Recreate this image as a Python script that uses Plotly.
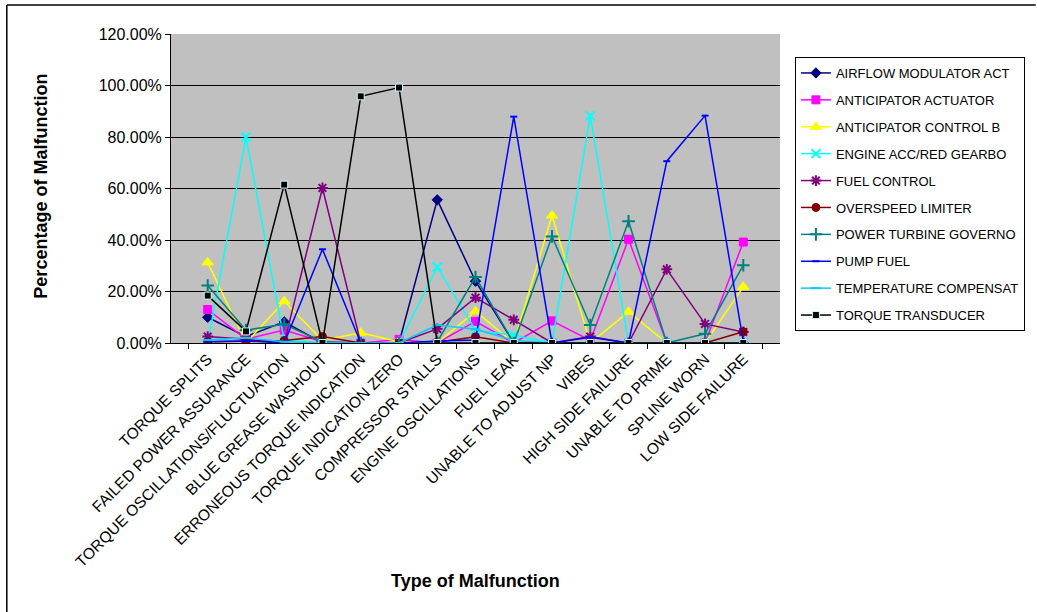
import plotly.graph_objects as go

categories = [
    "TORQUE SPLITS", "FAILED POWER ASSURANCE", "TORQUE OSCILLATIONS/FLUCTUATION",
    "BLUE GREASE WASHOUT", "ERRONEOUS TORQUE INDICATION", "TORQUE INDICATION ZERO",
    "COMPRESSOR STALLS", "ENGINE OSCILLATIONS", "FUEL LEAK", "UNABLE TO ADJUST NP",
    "VIBES", "HIGH SIDE FAILURE", "UNABLE TO PRIME", "SPLINE WORN", "LOW SIDE FAILURE",
]

# values in percent
airflow_modulator = [10.0, 2.5, 8.2, 0, 0, 0, 55.6, 24.0, 0, 0, 0, 0, 0, 0, 0]
anticipator_actuator = [13.0, 1.5, 5.0, 0.5, 0, 1.4, 0, 8.4, 0, 8.6, 1.0, 40.3, 0, 0, 39.2]
anticipator_control = [31.3, 0, 16.2, 1.0, 4.0, 0.5, 0, 12.3, 0, 49.5, 0, 12.1, 0, 0, 21.8]
engine_acc_gearbox = [0, 80.0, 1.0, 0, 0, 0, 29.5, 5.0, 3.0, 0, 88.2, 0, 0, 0, 0]
fuel_control = [2.5, 1.5, 0, 60.2, 0, 0, 5.5, 17.6, 9.0, 0, 2.5, 0, 28.6, 7.4, 4.3]
overspeed_limiter = [0.5, 0.8, 1.0, 2.5, 0, 0, 0.3, 2.4, 0, 0, 0, 0, 0, 0, 4.4]
power_turbine_gov = [22.3, 5.0, 7.3, 0.5, 0, 0, 0.5, 25.6, 0, 41.4, 7.0, 47.3, 0, 3.6, 30.2]
pump_fuel = [0.5, 0.8, 0, 36.4, 0, 0, 0.8, 1.2, 87.9, 0, 2.2, 0, 70.6, 88.3, 0.5]
temperature_comp = [1.2, 2.0, 0.5, 0, 0, 0, 7.0, 5.3, 1.0, 0, 0, 0, 0, 0, 0]
torque_transducer = [18.4, 4.5, 61.5, 0, 95.8, 99.2, 0, 0, 0, 0, 0, 0, 0, 0, 0]

series = [
    ("AIRFLOW MODULATOR ACT", airflow_modulator, "#000080", "diamond", 8, None),
    ("ANTICIPATOR ACTUATOR", anticipator_actuator, "#FF00FF", "square", 8, None),
    ("ANTICIPATOR CONTROL B", anticipator_control, "#FFFF00", "triangle-up", 10, None),
    ("ENGINE ACC/RED GEARBO", engine_acc_gearbox, "#00FFFF", "x-thin-open", 9, None),
    ("FUEL CONTROL", fuel_control, "#800080", "asterisk-open", 9, None),
    ("OVERSPEED LIMITER", overspeed_limiter, "#800000", "circle", 8, None),
    ("POWER TURBINE GOVERNO", power_turbine_gov, "#008080", "cross-thin-open", 9, None),
    ("PUMP FUEL", pump_fuel, "#0000FF", "line-ew-open", 5, None),
    ("TEMPERATURE COMPENSAT", temperature_comp, "#00CCFF", "line-ew-open", 7, None),
    ("TORQUE TRANSDUCER", torque_transducer, "#000000", "square", 7, "#CCFFFF"),
]

fig = go.Figure()
for name, vals, color, sym, size, edge in series:
    if sym.endswith("-open"):
        marker = dict(symbol=sym, size=size, color=color, line=dict(color=color, width=2))
    else:
        marker = dict(symbol=sym, size=size, color=color,
                      line=dict(color=edge if edge else color, width=1))
    fig.add_trace(go.Scatter(
        x=categories, y=[v / 100 for v in vals], name=name, mode="lines+markers",
        line=dict(color=color, width=1.5), marker=marker, legendgroup=name,
    ))

W, H = 1037, 612
L, R, T, B = 171, 783, 34, 343
pw, ph = R - L, B - T

def px(x):
    return (x - L) / pw

def py(y):
    return (B - y) / ph

fig.update_layout(
    width=W, height=H,
    margin=dict(l=L, r=W - R, t=T, b=H - B, pad=0),
    paper_bgcolor="white", plot_bgcolor="#C0C0C0",
    font=dict(family="Liberation Sans, Arial, sans-serif", color="black", size=14),
    showlegend=True,
    legend=dict(
        x=px(798), y=py(57), xanchor="left", yanchor="top",
        bgcolor="white", bordercolor="black", borderwidth=1,
        font=dict(size=13), tracegroupgap=7, itemwidth=30,
        traceorder="grouped",
    ),
    xaxis=dict(
        type="category", tickangle=-45, showgrid=False, tickson="boundaries",
        ticks="outside", ticklen=5, tickcolor="black", showline=True,
        linecolor="black", linewidth=1, tickfont=dict(size=15.5), automargin=False,
    ),
    yaxis=dict(
        range=[0, 1.2], dtick=0.2, tickformat=".2%", showgrid=True,
        gridcolor="#000000", gridwidth=1, ticks="outside", ticklen=5,
        tickcolor="black", showline=True, linecolor="black", linewidth=1,
        zeroline=False, tickfont=dict(size=16), automargin=False,
    ),
    annotations=[
        dict(text="<b>Type of Malfunction</b>", x=0.5, y=py(581), xref="paper",
             yref="paper", showarrow=False, xanchor="center", yanchor="middle",
             font=dict(size=18)),
        dict(text="<b>Percentage of Malfunction</b>", x=px(40), y=py(186),
             xref="paper", yref="paper", showarrow=False, textangle=-90,
             xanchor="center", yanchor="middle", font=dict(size=18)),
    ],
    shapes=[
        dict(type="line", xref="paper", yref="paper", x0=px(6), y0=py(5),
             x1=px(1040), y1=py(5), line=dict(color="black", width=1.5), layer="below"),
        dict(type="line", xref="paper", yref="paper", x0=px(6), y0=py(5),
             x1=px(6), y1=py(640), line=dict(color="black", width=1.5), layer="below"),
    ],
)

fig.write_html(
    "out.html", config={"displayModeBar": False},
    post_script="document.body.style.margin='0px';document.body.style.overflow='hidden';",
)
